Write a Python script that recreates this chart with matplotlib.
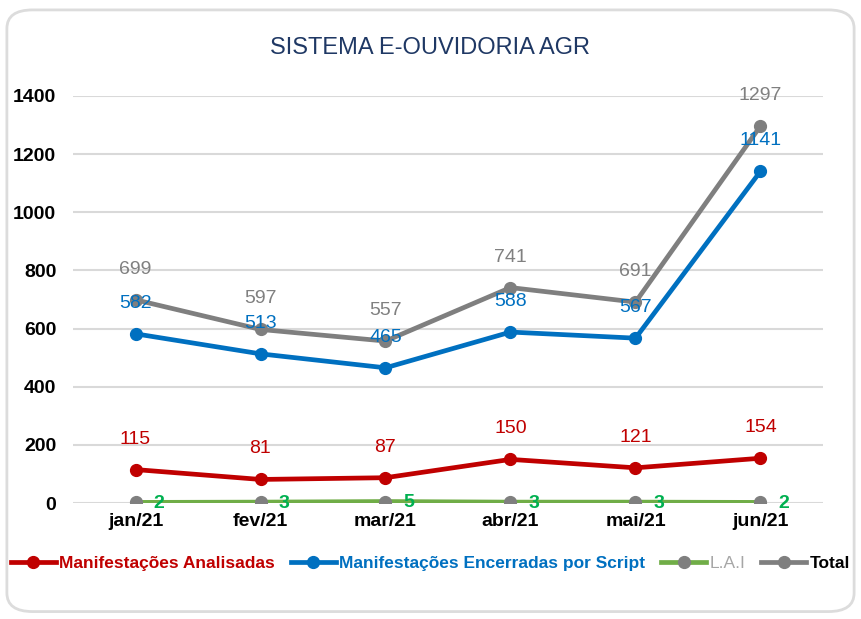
import matplotlib
matplotlib.use("Agg")
import matplotlib.pyplot as plt
from matplotlib.patches import FancyBboxPatch

# dados
meses = ["jan/21", "fev/21", "mar/21", "abr/21", "mai/21", "jun/21"]
analisadas = [115, 81, 87, 150, 121, 154]
encerradas = [582, 513, 465, 588, 567, 1141]
lai = [2, 3, 5, 3, 3, 2]
total = [699, 597, 557, 741, 691, 1297]

plt.rcParams['font.family'] = ['Liberation Sans', 'DejaVu Sans']

RED = "#C00000"
BLUE = "#0070C0"
GREEN = "#70AD47"
GRAY = "#7F7F7F"

fig = plt.figure(figsize=(8.61, 6.19), dpi=100)
fig.patch.set_facecolor("white")

# moldura arredondada
box = FancyBboxPatch((0.008, 0.012), 0.984, 0.972, boxstyle="round,pad=0,rounding_size=0.03",
                     transform=fig.transFigure, facecolor="none", edgecolor="#DCDCDC",
                     linewidth=2, zorder=-1)
fig.patches.append(box)

ax = fig.add_axes([73 / 861, (619 - 503) / 619, 750 / 861, 407 / 619])
ax.set_facecolor("none")
x = list(range(len(meses)))

ax.plot(x, analisadas, color=RED, lw=3.4, marker="o", ms=8.5, label="Manifestações Analisadas", zorder=3)
ax.plot(x, encerradas, color=BLUE, lw=3.4, marker="o", ms=8.5, label="Manifestações Encerradas por Script", zorder=3)
ax.plot(x, lai, color=GREEN, lw=3.4, marker="o", ms=8.5, mfc=GRAY, mec=GRAY, label="L.A.I", zorder=3)
ax.plot(x, total, color=GRAY, lw=3.4, marker="o", ms=8.5, label="Total", zorder=3)

for i in x:
    ax.annotate(str(analisadas[i]), (i, analisadas[i]), xytext=(0, 22), textcoords="offset points",
                ha="center", va="center", color=RED, fontsize=14)
    ax.annotate(str(encerradas[i]), (i, encerradas[i]), xytext=(0, 22), textcoords="offset points",
                ha="center", va="center", color=BLUE, fontsize=14)
    ax.annotate(str(total[i]), (i, total[i]), xytext=(0, 22), textcoords="offset points",
                ha="center", va="center", color="#808080", fontsize=14)
    ax.annotate(str(lai[i]), (i, lai[i]), xytext=(17, -1), textcoords="offset points",
                ha="center", va="center", color="#00B050", fontsize=14, fontweight="bold")

ax.set_xlim(-0.5, 5.5)
ax.set_ylim(0, 1400)
ax.set_yticks(range(0, 1401, 200))
ax.set_xticks(x)
ax.set_xticklabels(meses)
ax.grid(axis="y", color="#D9D9D9", lw=1.5, zorder=0)
ax.set_axisbelow(True)
for s in ax.spines.values():
    s.set_visible(False)
ax.tick_params(length=0)
ax.tick_params(axis="y", pad=12)
ax.tick_params(axis="x", pad=7)
for lbl in ax.get_xticklabels() + ax.get_yticklabels():
    lbl.set_fontweight("bold")
    lbl.set_fontsize(14)
    lbl.set_color("black")

fig.text(0.5, 1 - 48 / 619, "SISTEMA E-OUVIDORIA AGR", ha="center", va="center",
         fontsize=17, color="#1F3864")

leg = fig.legend(loc="center", bbox_to_anchor=(0.5, (619 - 563) / 619), ncol=4, frameon=False,
                 handlelength=2.6, handletextpad=0.2, columnspacing=0.9,
                 prop={"size": 12.5, "weight": "bold"})
cores = [RED, BLUE, "#A6A6A6", "black"]
for t, c in zip(leg.get_texts(), cores):
    t.set_color(c)
leg.get_texts()[2].set_fontweight("normal")

fig.savefig("out.png", dpi=100)
